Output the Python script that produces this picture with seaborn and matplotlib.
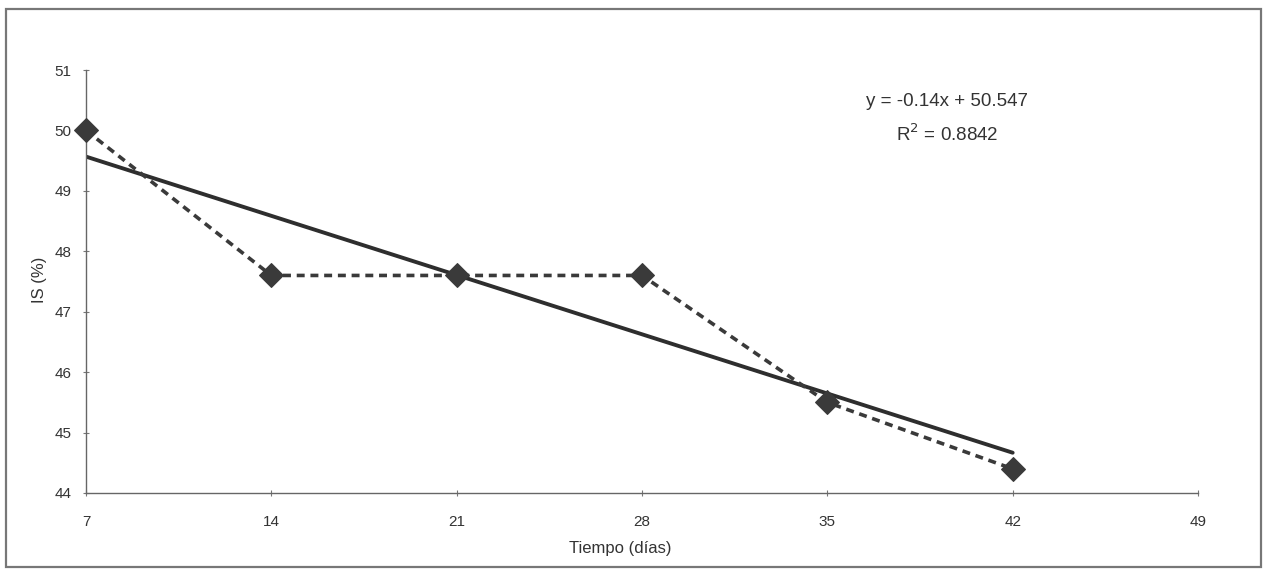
import numpy as np
import pandas as pd
import matplotlib
matplotlib.use("Agg")
import matplotlib.pyplot as plt
import seaborn as sns
from matplotlib.patches import Rectangle

# Data
dias = [7, 14, 21, 28, 35, 42]
is_pct = [50.0, 47.6, 47.6, 47.6, 45.5, 44.4]
x_ticks = [7, 14, 21, 28, 35, 42, 49]
y_ticks = [44, 45, 46, 47, 48, 49, 50, 51]
eq_text = "y = -0.14x + 50.547"
r2_text = "R$^2$ = 0.8842"

sns.set_theme(style="white")
plt.rcParams['font.family'] = ['Liberation Sans', 'DejaVu Sans']

fig = plt.figure(figsize=(12.67, 5.71), dpi=100)
ax = fig.add_axes([86/1267, 1-493/571, (1198-86)/1267, (493-70)/571])

df = pd.DataFrame({"dias": dias, "IS": is_pct})
dark = "#3a3a3a"

# linear trend through the data
slope, intercept = np.polyfit(dias, is_pct, 1)
trend_x = np.array([min(dias), max(dias)])
trend = pd.DataFrame({"dias": trend_x, "IS": slope * trend_x + intercept})
sns.lineplot(data=trend, x="dias", y="IS", ax=ax, color="#2e2e2e", lw=2.8, zorder=2)

sns.lineplot(data=df, x="dias", y="IS", ax=ax, color=dark, lw=2.6,
             linestyle=(0, (2.2, 1.6)), marker="D", markersize=12.5,
             markeredgecolor=dark, markerfacecolor=dark, zorder=3, clip_on=False)

ax.set_xlim(7, 49)
ax.set_ylim(44, 51)
ax.set_xticks(x_ticks)
ax.set_yticks(y_ticks)
ax.set_xticklabels([str(t) for t in x_ticks], fontsize=11, color="#333333")
ax.set_yticklabels([str(t) for t in y_ticks], fontsize=11, color="#333333")
ax.tick_params(axis="both", direction="inout", length=5, width=0.8, color="#777777",
               left=True, bottom=True)
ax.tick_params(axis="x", pad=13)
ax.tick_params(axis="y", pad=8)

for s in ["top", "right"]:
    ax.spines[s].set_visible(False)
for s in ["left", "bottom"]:
    ax.spines[s].set_color("#666666")
    ax.spines[s].set_linewidth(1.0)

ax.set_xlabel("Tiempo (días)", fontsize=12, color="#333333")
ax.set_ylabel("IS (%)", fontsize=12, color="#333333")
ax.xaxis.set_label_coords((620-86)/1112, -(541-493)/423)
ax.yaxis.set_label_coords(-(86-47)/1112, (493-280)/423)

ax.text((947-86)/1112, (493-101)/423, eq_text, transform=ax.transAxes,
        ha="center", va="center", fontsize=13.5, color="#333333")
ax.text((947-86)/1112, (493-134)/423, r2_text, transform=ax.transAxes,
        ha="center", va="center", fontsize=13.5, color="#333333")

fig.patches.append(Rectangle((6/1267, 4/571), (1261-6)/1267, (562-4)/571,
                             transform=fig.transFigure, fill=False,
                             edgecolor="#777777", lw=1.6))

fig.savefig("out.png", dpi=100, facecolor="white")
